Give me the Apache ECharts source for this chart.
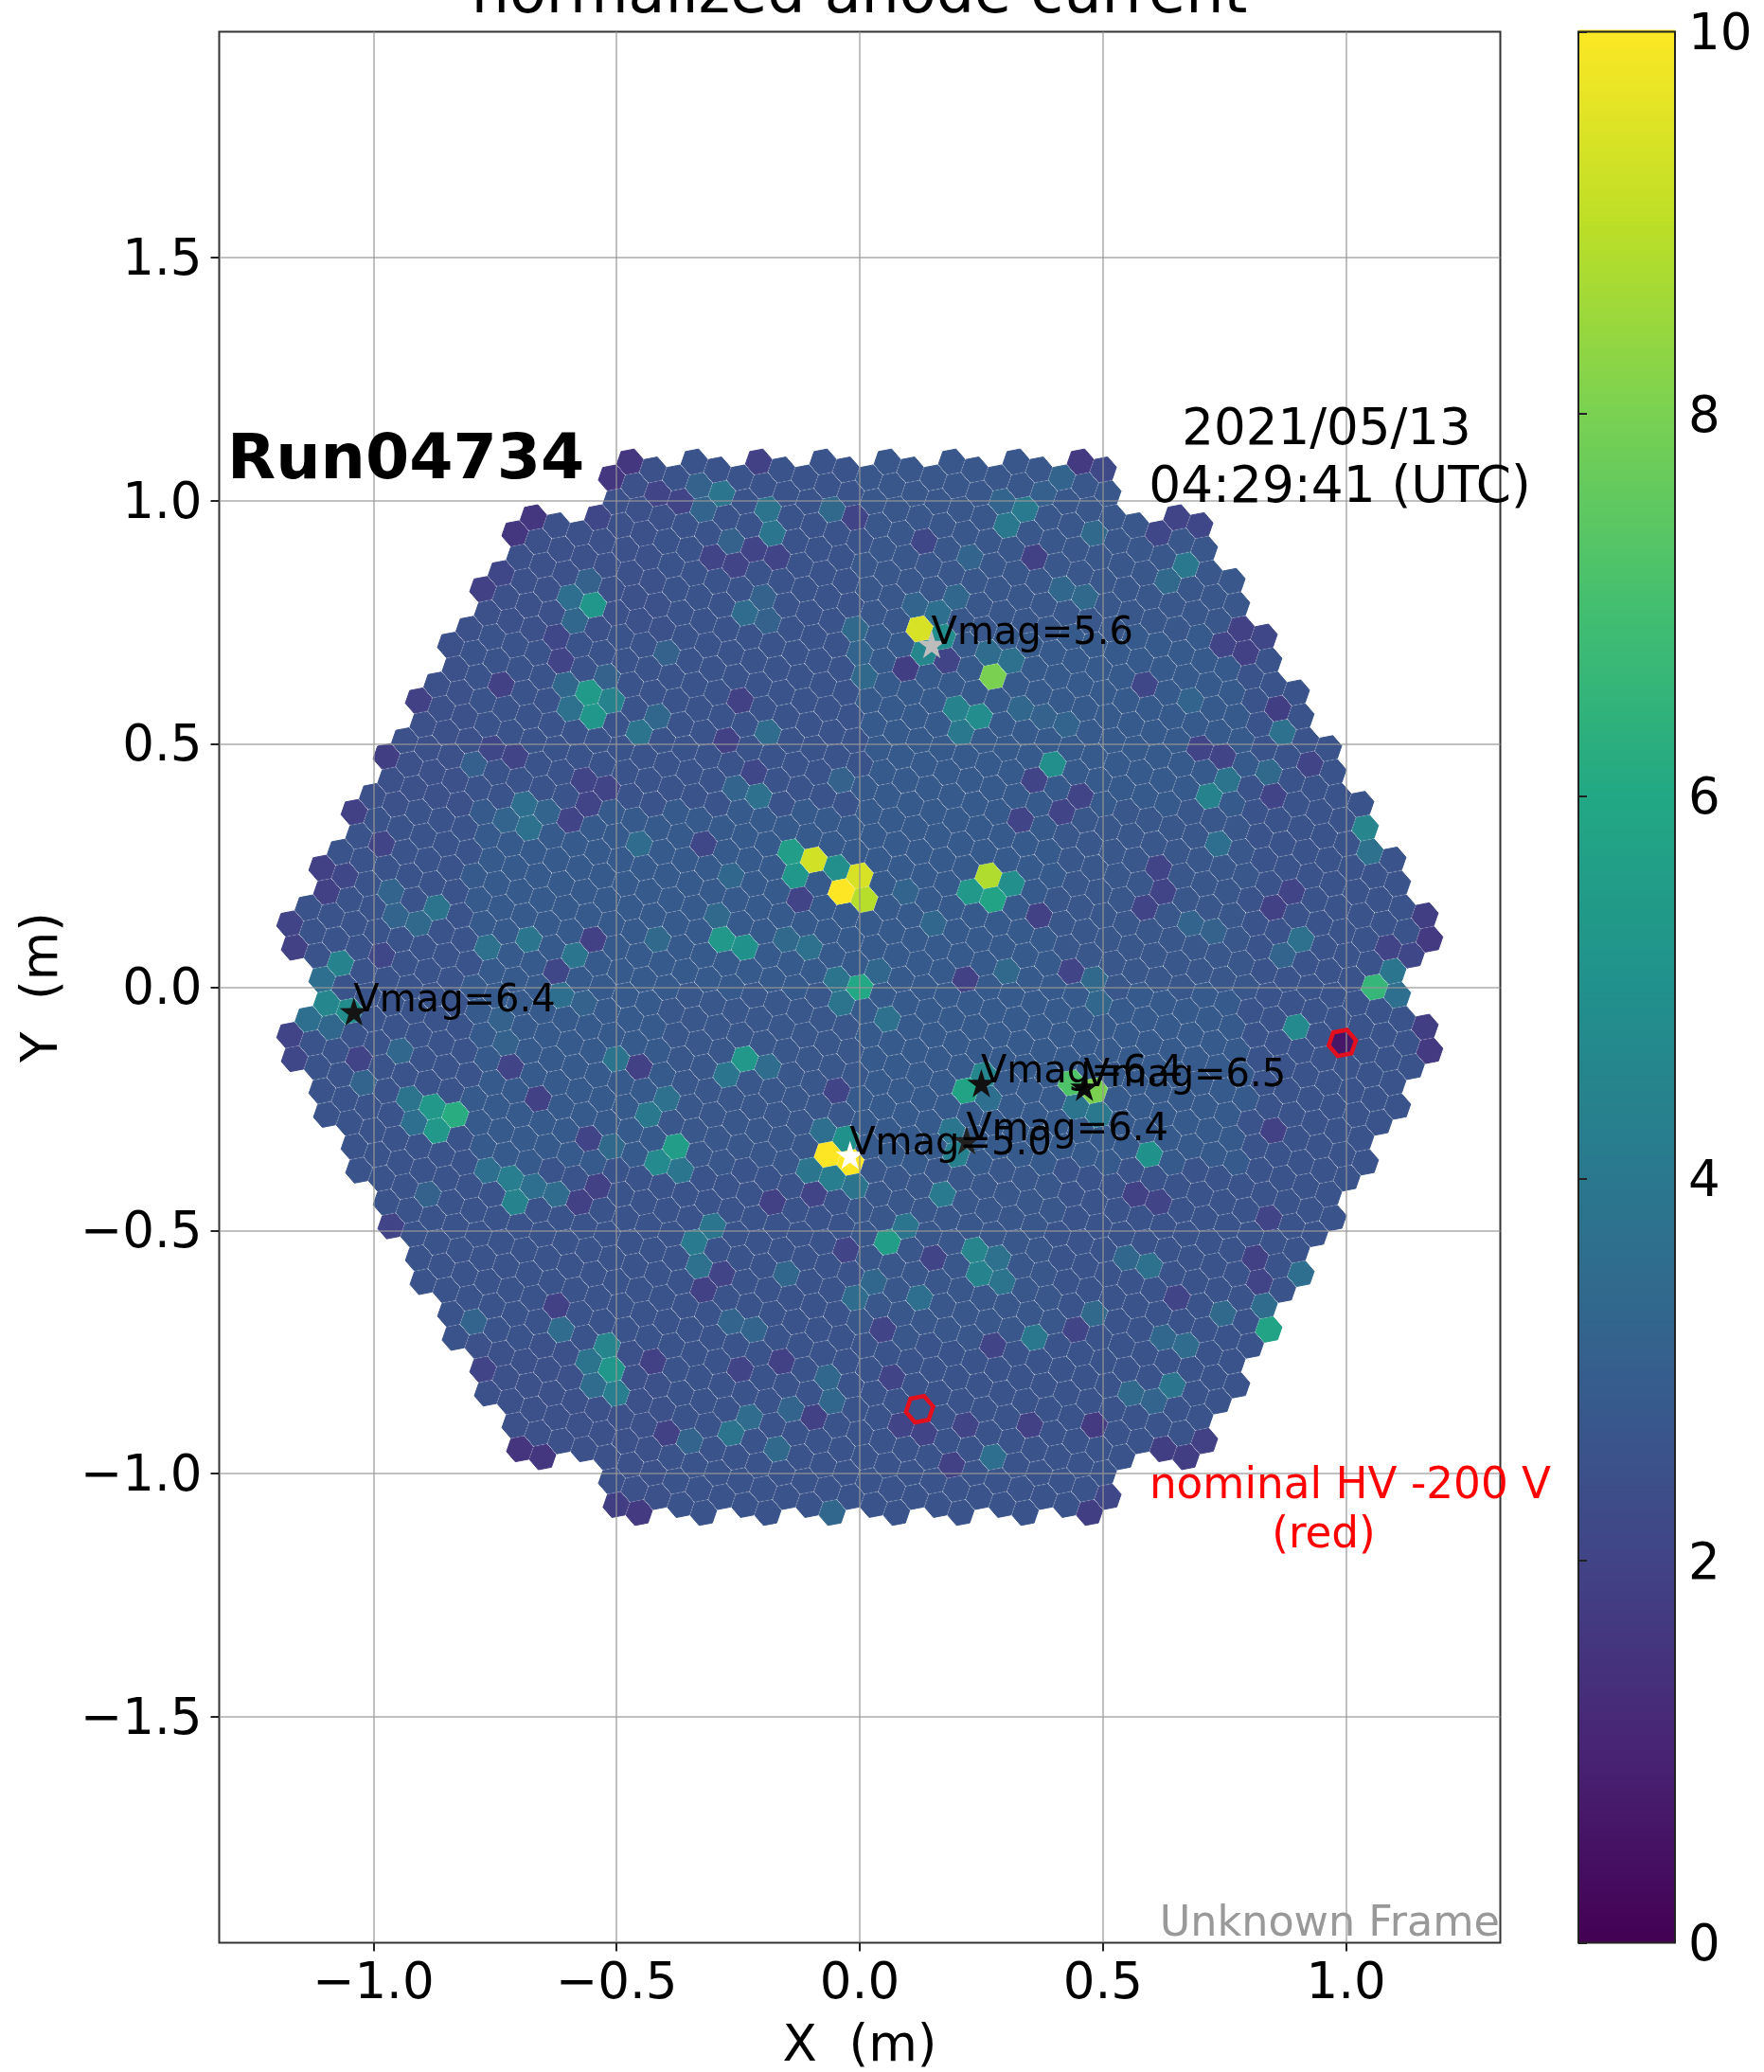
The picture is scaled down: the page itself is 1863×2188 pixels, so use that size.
<!DOCTYPE html>
<html>
<head>
<meta charset="utf-8">
<title>normalized anode current</title>
<script src="https://cdn.jsdelivr.net/npm/echarts@6/dist/echarts.min.js"></script>
<style>
	html, body { margin: 0; padding: 0; background: #fff; }
	#main { width: 1863px; height: 2188px; }
</style>
</head>
<body>
<div id="main"></div>
<script>
var FONT = '"DejaVu Sans"';
var viridis = ['#440154', '#482475', '#414487', '#355f8d', '#2a788e', '#21918c', '#22a884', '#44bf70', '#7ad151', '#bddf26', '#fde725'];
var xTicks = [-1, -0.5, 0, 0.5, 1];
var yTicks = [-1.5, -1, -0.5, 0, 0.5, 1, 1.5];

// camera layout: 265 modules of 7 pixels, 0.05 m pitch
var pixelPitch = 0.05;
var latticeAngle = -19.1;
var moduleRings = 9;

// level of the ordinary pixels, read by eye, rows from top, columns from left
var backgroundLevels = [
	[2.45, 2.45, 2.55, 2.7, 2.7, 2.6],
	[2.45, 2.55, 2.6, 2.8, 2.8, 2.6],
	[2.6, 2.8, 2.8, 2.8, 2.7, 2.55],
	[2.6, 2.8, 2.7, 2.8, 2.8, 2.6],
	[2.55, 2.55, 2.55, 2.7, 2.6, 2.55],
	[2.45, 2.45, 2.55, 2.6, 2.6, 2.55]
];

// pixels that stand out: [x, y, level]
var brightPixels = [
	[-0.144,0.282,5.5],[-0.097,0.263,9.3],[-0.05,0.248,4.9],[-0.134,0.231,5.2],[-0.001,0.231,9.4],[-0.04,0.198,10],[0.007,0.181,8.9],
	[-0.55,0.787,5.2],[-0.56,0.61,5.4],[-0.511,0.591,4.4],[-0.55,0.557,5.2],[-0.285,0.099,5.3],[-0.239,0.086,5.0],[-1.07,0.051,4.4],[-0.001,0.006,6.0],
	[0.121,0.738,9.4],[0.27,0.639,8.0],[0.262,0.23,8.8],[0.225,0.196,5.3],[0.27,0.181,5.8],[0.309,0.215,4.9],[0.135,0.688,4.6],[0.176,0.721,4.8],
	[0.196,0.576,4.4],[0.244,0.56,4.8],[0.206,0.528,4.0],[0.34,0.986,4.1],[0.299,0.951,4.0],[0.395,0.461,4.9],[0.716,0.395,4.4],[1.037,0.33,4.5],[0.667,0.867,4.0],[1.056,0.006,6.6],
	[-1.099,-0.028,4.6],[-1.041,-0.046,4.8],[-0.239,-0.146,5.3],[-0.879,-0.244,5.3],[-0.832,-0.259,6.2],[-0.871,-0.295,5.3],[-0.38,-0.324,5.5],[-0.42,-0.359,4.7],
	[-0.718,-0.389,4.2],[-0.71,-0.441,4.4],[-0.034,-0.307,5.0],[-0.068,-0.341,10],[-0.022,-0.359,10],[-0.058,-0.393,4.2],[-0.341,-0.523,4.1],[0.052,-0.523,5.5],
	[-0.524,-0.734,4.5],[-0.511,-0.784,5.2],[-0.501,-0.832,4.2],[0.895,-0.08,4.7],[0.213,-0.21,5.8],[0.244,-0.169,4.6],[0.442,-0.199,7.2],[0.487,-0.218,8.0],
	[0.442,-0.247,3.8],[0.49,-0.262,4.0],[0.594,-0.341,5.0],[0.168,-0.423,4.1],[0.053,-0.523,5.5],[0.235,-0.54,4.5],[0.244,-0.587,4.4],[0.213,-0.326,5.0],[0.192,-0.356,4.3],[0.356,-0.717,4.0],[0.835,-0.702,5.8]
];
var lightPixels = [
	[-0.597,0.803,3.6],[-0.588,0.755,3.3],[-0.56,0.837,3.1],[-0.597,0.572,3.7],[-0.607,0.623,3.3],[-0.456,0.528,3.8],[-0.419,0.561,3.3],[-0.524,0.639,3.1],
	[-0.284,1.017,3.9],[-0.191,0.984,3.8],[-0.181,0.934,3.9],[-0.325,0.981,3.2],[-0.333,1.034,3.1],[-0.058,0.983,3.4],[-0.267,0.919,3.1],[-0.239,0.772,3.5],[-0.198,0.807,3.1],[-0.191,0.755,3.1],
	[-0.013,0.736,3.4],[-0.001,0.691,3.2],[0.007,0.639,3.4],[-0.191,0.528,3.5],[-0.398,0.691,3.1],[-0.21,0.395,3.7],[-0.259,0.412,3.2],[-0.038,0.434,3.1],[-0.796,0.461,3.0],
	[-0.691,0.379,3.6],[-0.681,0.328,3.7],[-0.73,0.345,3.2],[-0.646,0.362,3.2],[-0.456,0.297,3.5],[-0.267,0.231,3.3],[-0.869,0.168,3.8],[-0.909,0.133,3.4],[-0.966,0.198,3.2],[-0.955,0.151,3.2],
	[-0.296,0.151,3.4],[-0.681,0.101,3.9],[-0.767,0.084,3.7],[-0.587,0.067,3.9],[-0.415,0.101,3.4],[-0.153,0.101,3.4],[-0.108,0.084,3.7],[-0.05,0.021,3.8],[-1.107,0.021,3.6],
	[0.16,0.773,3.6],[0.262,0.688,3.5],[0.311,0.677,3.7],[0.192,0.803,3.3],[0.11,0.788,3.2],[0.753,0.427,3.8],[0.839,0.446,3.4],[0.733,0.296,3.6],[1.048,0.282,3.7],[0.63,0.837,3.4],[0.463,0.803,3.4],[0.413,0.822,3.3],
	[0.479,0.934,3.4],[0.225,0.889,3.2],[0.413,1.049,3.2],[0.377,1.019,3.0],[0.286,1.001,3.2],[0.868,0.526,3.7],[0.679,0.591,3.2],[0.327,0.572,3.3],[0.376,0.557,3.1],[0.426,0.542,3.2],[0.905,0.099,3.7],[0.868,0.067,3.2],
	[1.093,0.038,3.9],[1.105,-0.009,3.8],[0.147,0.129,3.3],[0.094,0.196,3.2],[0.037,0.036,3.3],[0.299,0.036,3.4],[0.479,0.021,3.4],[0.679,0.133,3.2],[0.725,0.118,3.1],
	[-1.136,-0.064,3.6],[-1.09,-0.08,3.3],[-0.615,-0.013,3.6],[-0.566,-0.028,3.1],[-0.738,-0.064,3.1],[-0.73,-0.11,3.1],[-0.947,-0.128,3.3],[-1.022,-0.192,3.2],[-0.501,-0.143,3.8],[-0.276,-0.178,3.9],[-0.19,-0.158,3.5],
	[-0.928,-0.227,3.8],[-0.918,-0.277,3.6],[-0.398,-0.227,3.7],[-0.437,-0.259,4.0],[-0.37,-0.374,3.9],[-0.511,-0.324,3.4],[-0.767,-0.374,3.6],[-0.673,-0.406,3.6],[-0.625,-0.423,3.5],[-0.89,-0.423,3.1],
	[-0.079,-0.292,3.6],[-0.108,-0.374,3.9],[-0.011,-0.409,3.8],[-0.304,-0.486,3.9],[-0.333,-0.572,3.7],[-0.153,-0.587,3.3],[0.027,-0.605,3.3],[-0.009,-0.635,3.5],[-0.615,-0.702,3.5],[-0.558,-0.766,3.8],[-0.55,-0.816,3.5],
	[-0.791,-0.683,3.2],[-0.267,-0.683,3.2],[-0.218,-0.702,3.2],[-0.068,-0.799,3.3],[-0.058,-0.847,3.3],[-0.144,-0.862,3.2],[-0.228,-0.881,3.5],[-0.267,-0.913,3.8],[-0.351,-0.929,3.2],[-0.171,-0.946,3.4],[-0.058,-1.078,3.3],
	[-0.027,-0.027,3.8],[0.25,-0.229,3.6],[0.094,-0.482,3.9],[0.282,-0.553,3.7],[0.29,-0.605,3.8],[0.188,-0.292,3.9],[0.053,-0.061,3.7],[0.49,-0.028,3.3],[0.122,-0.616,3.6],[0.479,-0.669,3.4],[0.548,-0.549,3.3],[0.594,-0.568,3.7],
	[0.831,-0.65,3.5],[0.745,-0.669,3.4],[0.62,-0.717,3.3],[0.667,-0.734,3.5],[0.64,-0.816,3.9],[0.555,-0.832,3.4],[0.602,-0.847,3.2],[0.272,-0.963,3.6],[0.905,-0.587,3.6],[1.101,-0.024,3.6]
];
var dimPixels = [
	[-0.475,1.083,1.6],[-0.513,1.049,1.6],[-0.673,0.967,1.6],[-0.71,0.935,1.6],[-0.542,0.967,2.1],[-0.208,1.083,1.9],[-0.777,0.82,1.9],[-0.738,0.855,2.1],[-0.976,0.477,1.8],[-0.91,0.591,1.9],[-1.04,0.364,1.9],[-1.108,0.25,1.9],[-1.099,0.2,1.9],[-1.062,0.237,2.1],[-1.172,0.133,2.0],[-1.164,0.084,1.9],
	[-0.255,0.87,2.0],[-0.304,0.885,2.0],[-0.218,0.9,2.0],[-0.169,0.881,2.0],[-0.37,1.001,2.0],[-0.419,1.019,2.0],[-0.013,0.967,2.0],[-0.738,0.623,1.9],[-0.615,0.673,2.0],[-0.625,0.721,2.1],[-0.247,0.591,1.9],[-0.276,0.513,1.9],[-0.218,0.446,2.1],[-0.57,0.427,2.0],[-0.525,0.412,2.0],[-0.558,0.379,2.0],[-0.599,0.341,2.0],[-0.325,0.297,2.1],[-0.124,0.181,2.0],[-0.55,0.101,1.9],[-0.98,0.297,2.0],[-0.98,0.069,2.1],[-0.625,0.04,2.1],[-0.71,0.479,2.0],[-0.755,0.486,2.1],
	[0.452,1.083,1.7],[0.499,1.068,2.2],[0.651,0.967,2.0],[0.698,0.952,2.1],[0.356,0.885,1.9],[0.614,0.934,2.1],[0.782,0.738,1.9],[0.831,0.723,2.1],[0.745,0.706,2.0],[0.79,0.691,1.9],[0.858,0.576,1.8],[0.585,0.624,2.1],[0.094,0.656,1.8],[0.176,0.673,2.0],[0.696,0.494,2.0],[0.745,0.475,2.0],[0.848,0.395,2.0],[0.921,0.461,2.0],[0.45,0.395,2.0],[0.356,0.427,2.0],[0.413,0.364,2.0],[0.327,0.345,2.0],[0.614,0.248,2.0],[0.622,0.196,2.0],[0.581,0.17,2.0],[0.847,0.166,1.9],[0.884,0.2,2.0],[0.364,0.151,1.9],[1.163,0.151,1.8],[1.169,0.101,1.7],[1.085,0.084,2.0],[1.13,0.067,2.1],[0.217,0.021,1.9],[0.43,0.036,2.0],[0.131,0.919,2.1],
	[-0.701,-0.948,1.5],[-0.655,-0.963,1.6],[-0.502,-1.062,1.8],[-0.456,-1.078,1.7],[-0.775,-0.784,2.0],[-1.172,-0.095,2.0],[-1.164,-0.146,2.1],[-1.031,-0.146,2.0],[-0.719,-0.162,2.0],[-0.456,-0.162,1.9],[-0.663,-0.227,1.9],[-0.558,-0.307,2.0],[-0.542,-0.406,1.9],[-0.578,-0.438,1.9],[-0.966,-0.488,2.0],[-0.05,-0.21,2.0],[-0.097,-0.423,2.0],[-0.181,-0.441,1.9],[-0.03,-0.534,2.0],[-0.325,-0.62,1.9],[-0.284,-0.587,2.0],[-0.625,-0.65,1.9],[-0.427,-0.766,1.9],[-0.247,-0.784,2.0],[-0.163,-0.766,1.9],[-0.097,-0.881,1.9],[-0.398,-0.913,1.9],[0.044,-0.702,2.0],
	[0.991,-0.114,0.6],[1.159,-0.08,1.8],[1.169,-0.128,1.7],[0.811,-0.553,1.9],[0.819,-0.602,2.0],[0.651,-0.635,2.0],[0.565,-0.423,1.9],[0.612,-0.438,2.0],[0.839,-0.467,2.0],[0.847,-0.292,1.9],[0.147,-0.553,2.0],[0.045,-0.698,2.0],[0.272,-0.734,2.0],[0.442,-0.702,2.0],[0.479,-0.896,1.7],[0.348,-0.896,1.9],[0.217,-0.896,2.0],[0.131,-0.913,2.0],[0.08,-0.896,2.0],[0.188,-0.978,1.9],[0.622,-0.948,1.8],[0.667,-0.963,1.8],[0.704,-0.929,1.9],[0.467,-1.078,1.8],[0.512,-1.045,2.1],[0.065,-0.795,2.0]
];
var lowHvX = [0.991, 0.121];
var lowHvY = [-0.114, -0.862];

var starX = [-1.04, 0.148, -0.02, 0.25, 0.462, 0.22];
var starY = [-0.05, 0.705, -0.345, -0.197, -0.205, -0.315];
var starMags = ['6.4', '5.6', '5.0', '6.4', '6.5', '6.4'];
var starColors = ['#151515', '#bdbdbd', '#ffffff', '#111111', '#0a0a0a', '#222222'];
var STAR_PATH = 'path://M50 0L61.8 36.2L100 36.3L69.1 58.7L80.9 95L50 72.6L19.1 95L30.9 58.7L0 36.3L38.2 36.2Z';

function backgroundLevel(x, y) {
	var col = Math.min(5, Math.max(0, Math.floor((x + 1.2) / 0.4)));
	var row = Math.min(5, Math.max(0, Math.floor((1.1 - y) / 0.3667)));
	return backgroundLevels[row][col];
}

function buildPixels() {
	var pixels = [];
	var rad = latticeAngle * Math.PI / 180;
	var a = [pixelPitch * Math.cos(rad), pixelPitch * Math.sin(rad)];
	var b = [pixelPitch * Math.cos(rad + Math.PI / 3), pixelPitch * Math.sin(rad + Math.PI / 3)];
	var offsets = [[0, 0], [1, 0], [0, 1], [-1, 1], [-1, 0], [0, -1], [1, -1]];
	var n = moduleRings;
	for (var i = -n; i <= n; i++) {
		for (var j = -n; j <= n; j++) {
			var k = -i - j;
			if (Math.abs(k) > n) continue;
			// the six corner modules are not on the camera
			if (Math.max(Math.abs(i), Math.abs(j), Math.abs(k)) == n && (i == 0 || j == 0 || k == 0)) continue;
			var cu = 2 * i - j;
			var cv = i + 3 * j;
			for (var m = 0; m < offsets.length; m++) {
				var u = cu + offsets[m][0];
				var v = cv + offsets[m][1];
				var x = u * a[0] + v * b[0];
				var y = u * a[1] + v * b[1];
				pixels.push([x, y, backgroundLevel(x, y)]);
			}
		}
	}
	return pixels;
}

function nearestPixel(pixels, x, y) {
	var best = null;
	var bestD = Infinity;
	for (var i = 0; i < pixels.length; i++) {
		var d = Math.pow(pixels[i][0] - x, 2) + Math.pow(pixels[i][1] - y, 2);
		if (d < bestD) { bestD = d; best = pixels[i]; }
	}
	return best;
}

var pixelData = buildPixels();
[dimPixels, lightPixels, brightPixels].forEach(function (list) {
	list.forEach(function (p) {
		nearestPixel(pixelData, p[0], p[1])[2] = p[2];
	});
});

var lowHvData = lowHvX.map(function (x, i) {
	var p = nearestPixel(pixelData, x, lowHvY[i]);
	return [p[0], p[1]];
});

var colorbarStep = 0.02;
var colorbarData = [];
for (var l = 0; l < 500; l++) {
	colorbarData.push([0, l * colorbarStep, l * colorbarStep]);
}

function hexPoints(api, cx, cy, radius) {
	var c = api.coord([cx, cy]);
	var r = api.size([radius, 0])[0];
	var pts = [];
	for (var k = 0; k < 6; k++) {
		var t = (latticeAngle + 30 + k * 60) * Math.PI / 180;
		pts.push([c[0] + r * Math.cos(t), c[1] - r * Math.sin(t)]);
	}
	return pts;
}

function renderHex(params, api) {
	var color = api.visual('color');
	return {
		type: 'polygon',
		shape: { points: hexPoints(api, api.value(0), api.value(1), 0.0276) },
		style: { fill: color, stroke: color, lineWidth: 1, lineJoin: 'round' }
	};
}

function renderLowHv(params, api) {
	return {
		type: 'polygon',
		shape: { points: hexPoints(api, api.value(0), api.value(1), 0.0285) },
		style: { fill: 'none', stroke: '#e2101f', lineWidth: 4.5 }
	};
}

function renderColorbar(params, api) {
	var lo = api.coord([0, api.value(1)]);
	var hi = api.coord([1, api.value(1) + colorbarStep * 1.5]);
	return {
		type: 'rect',
		shape: { x: lo[0], y: hi[1], width: hi[0] - lo[0], height: lo[1] - hi[1] },
		style: { fill: api.visual('color') }
	};
}

function tickLabel(v) {
	return (v < 0 ? '\u2212' : '') + Math.abs(v).toFixed(1);
}

var labelStyle = { fontFamily: FONT, fontSize: 53, color: '#000' };
var gridLine = { show: true, lineStyle: { color: 'rgba(150,150,150,0.6)', width: 2 } };

var option = {
	animation: false,
	backgroundColor: '#fff',
	textStyle: { fontFamily: FONT },
	title: {
		text: 'normalized anode current',
		left: 907.5,
		textAlign: 'center',
		top: -36,
		padding: 0,
		textStyle: { fontFamily: FONT, fontSize: 63.5, fontWeight: 'normal', color: '#000' }
	},
	grid: [
		{ left: 231.5, top: 33.5, width: 1353, height: 2018, outerBoundsMode: 'none', show: true, borderColor: '#333', borderWidth: 2, backgroundColor: 'transparent', z: 0 },
		{ left: 1667, top: 33.5, width: 102, height: 2018, outerBoundsMode: 'none', show: true, borderColor: '#222', borderWidth: 2, backgroundColor: 'transparent', z: 10 }
	],
	xAxis: [{
		type: 'value',
		gridIndex: 0,
		min: -1.317,
		max: 1.317,
		z: 5,
		name: 'X  (m)',
		nameLocation: 'middle',
		nameGap: 84,
		nameTextStyle: labelStyle,
		axisLine: { show: false, onZero: false },
		axisTick: { show: true, length: 9, customValues: xTicks, lineStyle: { color: '#222', width: 2 } },
		axisLabel: { customValues: xTicks, margin: 18, fontFamily: FONT, fontSize: 53, color: '#000', formatter: tickLabel },
		splitLine: gridLine
	}, {
		type: 'value',
		gridIndex: 1,
		min: 0,
		max: 1,
		show: false
	}],
	yAxis: [{
		type: 'value',
		gridIndex: 0,
		min: -1.964,
		max: 1.964,
		z: 5,
		name: 'Y  (m)',
		nameLocation: 'middle',
		nameGap: 159,
		nameTextStyle: labelStyle,
		axisLine: { show: false, onZero: false },
		axisTick: { show: true, length: 9, customValues: yTicks, lineStyle: { color: '#222', width: 2 } },
		axisLabel: {
			customValues: yTicks,
			margin: 18,
			formatter: function (v) { return '{n|' + tickLabel(v) + '}'; },
			rich: { n: { fontFamily: FONT, fontSize: 53, color: '#000', padding: [8, 0, 0, 0] } }
		},
		splitLine: gridLine
	}, {
		type: 'value',
		gridIndex: 1,
		position: 'right',
		min: 0,
		max: 10,
		interval: 2,
		z: 11,
		axisLine: { show: false },
		axisTick: { show: true, length: 9, lineStyle: { color: '#222', width: 2 } },
		axisLabel: {
			margin: 14,
			formatter: '{n|{value}}',
			rich: { n: { fontFamily: FONT, fontSize: 53, color: '#000', padding: [10, 0, 0, 0] } }
		},
		splitLine: { show: false }
	}],
	visualMap: {
		show: false,
		type: 'continuous',
		min: 0,
		max: 10,
		dimension: 2,
		seriesIndex: [0, 1],
		inRange: { color: viridis }
	},
	series: [{
		type: 'custom',
		name: 'pixels',
		xAxisIndex: 0,
		yAxisIndex: 0,
		z: 2,
		progressive: 0,
		encode: { x: 0, y: 1 },
		renderItem: renderHex,
		data: pixelData
	}, {
		type: 'custom',
		name: 'colorbar',
		xAxisIndex: 1,
		yAxisIndex: 1,
		z: 2,
		progressive: 0,
		encode: { x: 0, y: 1 },
		renderItem: renderColorbar,
		data: colorbarData
	}, {
		type: 'custom',
		name: 'nominal HV -200 V',
		xAxisIndex: 0,
		yAxisIndex: 0,
		z: 7,
		encode: { x: 0, y: 1 },
		renderItem: renderLowHv,
		data: lowHvData
	}, {
		type: 'scatter',
		name: 'stars',
		xAxisIndex: 0,
		yAxisIndex: 0,
		z: 8,
		symbol: STAR_PATH,
		symbolSize: 30,
		itemStyle: { opacity: 1 },
		label: {
			show: true,
			position: 'right',
			distance: -15.5,
			offset: [0, -11],
			fontFamily: FONT,
			fontSize: 40,
			color: '#000'
		},
		data: starX.map(function (x, i) {
			return {
				value: [x, starY[i]],
				itemStyle: { color: starColors[i], opacity: 1 },
				label: { formatter: 'Vmag=' + starMags[i] }
			};
		})
	}],
	graphic: [
		{ type: 'text', z: 20, style: { x: 240, y: 488, text: 'Run04734', align: 'left', verticalAlign: 'middle', font: 'bold 66.5px ' + FONT, fill: '#000' } },
		{ type: 'text', z: 20, style: { x: 1401, y: 455, text: '2021/05/13', align: 'center', verticalAlign: 'middle', font: '53px ' + FONT, fill: '#000' } },
		{ type: 'text', z: 20, style: { x: 1415, y: 516, text: '04:29:41 (UTC)', align: 'center', verticalAlign: 'middle', font: '53.3px ' + FONT, fill: '#000' } },
		{ type: 'text', z: 20, style: { x: 1426, y: 1570, text: 'nominal HV -200 V', align: 'center', verticalAlign: 'middle', font: '45.3px ' + FONT, fill: '#ff0000' } },
		{ type: 'text', z: 20, style: { x: 1398, y: 1622, text: '(red)', align: 'center', verticalAlign: 'middle', font: '45.3px ' + FONT, fill: '#ff0000' } },
		{ type: 'text', z: 20, style: { x: 1584, y: 2032, text: 'Unknown Frame', align: 'right', verticalAlign: 'middle', font: '44.5px ' + FONT, fill: '#999999' } }
	]
};

var myChart = echarts.init(document.getElementById('main'));
myChart.setOption(option);
</script>
</body>
</html>
